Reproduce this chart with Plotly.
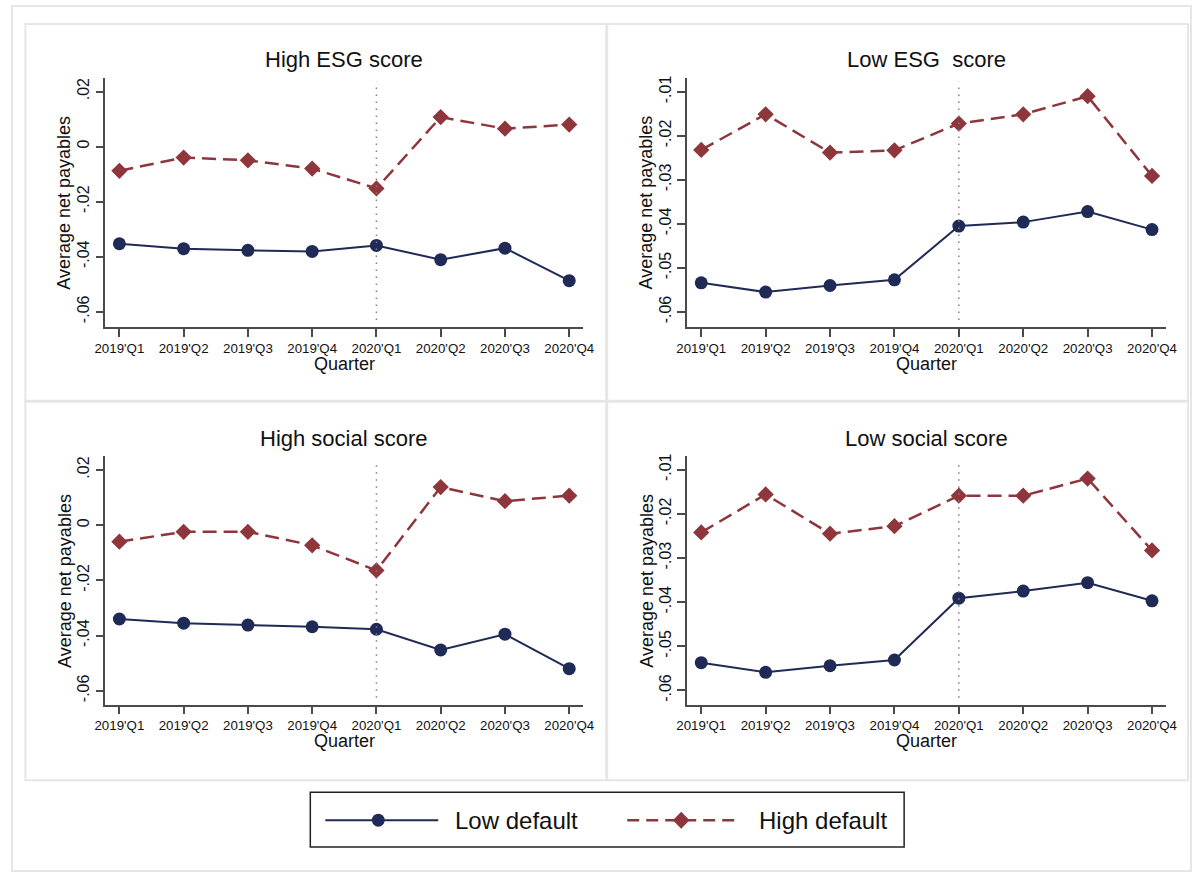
import plotly.graph_objects as go

# Quarter labels shared by all four panels
quarters = ["2019'Q1", "2019'Q2", "2019'Q3", "2019'Q4",
            "2020'Q1", "2020'Q2", "2020'Q3", "2020'Q4"]

# Average net payables by group (low / high default)
high_esg_low_default = [-0.0353, -0.0371, -0.0377, -0.0381, -0.0359, -0.0411, -0.0369, -0.0487]
high_esg_high_default = [-0.0088, -0.0040, -0.0050, -0.0080, -0.0152, 0.0107, 0.0065, 0.0080]

low_esg_low_default = [-0.0534, -0.0555, -0.0540, -0.0527, -0.0405, -0.0396, -0.0372, -0.0413]
low_esg_high_default = [-0.0232, -0.0151, -0.0238, -0.0233, -0.0172, -0.0151, -0.0110, -0.0291]

high_social_low_default = [-0.0340, -0.0355, -0.0362, -0.0368, -0.0377, -0.0452, -0.0395, -0.0520]
high_social_high_default = [-0.0060, -0.0024, -0.0024, -0.0073, -0.0164, 0.0138, 0.0087, 0.0107]

low_social_low_default = [-0.0537, -0.0559, -0.0544, -0.0531, -0.0391, -0.0375, -0.0356, -0.0397]
low_social_high_default = [-0.0242, -0.0156, -0.0245, -0.0228, -0.0159, -0.0159, -0.0120, -0.0283]

panel_titles = ["High ESG score", "Low ESG  score", "High social score", "Low social score"]

# y tick sets
ticks_high = [0.02, 0.0, -0.02, -0.04, -0.06]
ticklabels_high = [".02", "0", "-.02", "-.04", "-.06"]
ticks_low = [-0.01, -0.02, -0.03, -0.04, -0.05, -0.06]
ticklabels_low = ["-.01", "-.02", "-.03", "-.04", "-.05", "-.06"]

W, H = 1203, 875
NAVY = "#1f2b56"
MAROON = "#8f363c"
AXIS = "#4a4a4a"
FONT = "Arial, Liberation Sans, sans-serif"

# horizontal layout grid: positions are laid out on a slightly wider canvas
GX0, GXS = 10.6, 0.982


def px(x):
    """layout x position -> paper fraction (clamped to the canvas)"""
    v = (x - GX0) / GXS / W
    return min(max(v, 1.0 / W), 1 - 1.0 / W)


def py(y):
    """layout y position (from top) -> paper fraction"""
    return 1 - y / H


panels = [
    dict(low=high_esg_low_default, high=high_esg_high_default,
         xd=(105, 583), yd=(75, 325), yr=(-0.0655, 0.025),
         tv=ticks_high, tt=ticklabels_high),
    dict(low=low_esg_low_default, high=low_esg_high_default,
         xd=(687, 1166), yd=(75, 325), yr=(-0.0634, -0.0068),
         tv=ticks_low, tt=ticklabels_low),
    dict(low=high_social_low_default, high=high_social_high_default,
         xd=(105, 583), yd=(455, 704), yr=(-0.065, 0.0249),
         tv=ticks_high, tt=ticklabels_high),
    dict(low=low_social_low_default, high=low_social_high_default,
         xd=(687, 1166), yd=(455, 704), yr=(-0.0632, -0.0070),
         tv=ticks_low, tt=ticklabels_low),
]

fig = go.Figure()
layout = dict(
    width=W, height=H,
    margin=dict(l=0, r=0, t=0, b=0),
    paper_bgcolor="white", plot_bgcolor="white",
    showlegend=False,
    font=dict(family=FONT, color="#111"),
)
shapes = []
annotations = []

xpos = list(range(len(quarters)))

for i, p in enumerate(panels, start=1):
    sfx = "" if i == 1 else str(i)
    xa, ya = "x" + sfx, "y" + sfx
    fig.add_trace(go.Scatter(
        x=xpos, y=p["low"], xaxis=xa, yaxis=ya, mode="lines+markers",
        line=dict(color=NAVY, width=2),
        marker=dict(symbol="circle", size=13, color=NAVY),
        name="Low default"))
    fig.add_trace(go.Scatter(
        x=xpos, y=p["high"], xaxis=xa, yaxis=ya, mode="lines+markers",
        line=dict(color=MAROON, width=2.5, dash="14px,7px"),
        marker=dict(symbol="diamond", size=12.5, color=MAROON),
        name="High default"))

    layout["xaxis" + sfx] = dict(
        domain=[px(p["xd"][0]), px(p["xd"][1])], anchor=ya,
        range=[-0.218, 7.218], tickvals=xpos, ticktext=quarters,
        showline=True, linecolor=AXIS, linewidth=1.5,
        ticks="outside", ticklen=8, tickwidth=1.5, tickcolor=AXIS,
        showgrid=False, zeroline=False,
        tickfont=dict(size=13.3, color="#111", family=FONT))
    layout["yaxis" + sfx] = dict(
        domain=[py(p["yd"][1]), py(p["yd"][0])], anchor=xa,
        range=list(p["yr"]), tickvals=p["tv"], ticktext=p["tt"],
        tickangle=-90,
        showline=True, linecolor=AXIS, linewidth=1.5,
        ticks="outside", ticklen=8, tickwidth=1.5, tickcolor=AXIS,
        showgrid=False, zeroline=False,
        tickfont=dict(size=16, color="#111", family=FONT))

    # dotted reference line at 2020'Q1
    shapes.append(dict(type="line", xref=xa, yref=ya + " domain",
                       x0=4, x1=4, y0=0.028, y1=0.984,
                       line=dict(color="#808080", width=1.5, dash="1.5px,5.5px")))

    xc = (p["xd"][0] + p["xd"][1]) / 2
    # panel title
    annotations.append(dict(text=panel_titles[i - 1], x=px(xc), y=py(p["yd"][0] - 18),
                            xref="paper", yref="paper", showarrow=False,
                            xanchor="center", yanchor="middle",
                            font=dict(size=22, family=FONT, color="#111")))
    # x axis title
    annotations.append(dict(text="Quarter", x=px(xc), y=py(p["yd"][1] + 37),
                            xref="paper", yref="paper", showarrow=False,
                            xanchor="center", yanchor="middle",
                            font=dict(size=18, family=FONT, color="#111")))
    # y axis title
    annotations.append(dict(text="Average net payables",
                            x=px(p["xd"][0] - 41), y=py((p["yd"][0] + p["yd"][1]) / 2),
                            xref="paper", yref="paper", showarrow=False,
                            textangle=-90, xanchor="center", yanchor="middle",
                            font=dict(size=18, family=FONT, color="#111")))

# outer frame and panel frames
frame_col = "#e6e6e6"
shapes.append(dict(type="rect", xref="paper", yref="paper", layer="below",
                   x0=px(7), x1=px(1197), y0=py(871), y1=py(3),
                   line=dict(color=frame_col, width=2)))
for (x0, y0, x1, y1) in [(25, 21, 606, 399), (607, 21, 1188, 399),
                         (25, 400, 606, 780), (607, 400, 1188, 780)]:
    shapes.append(dict(type="rect", xref="paper", yref="paper", layer="below",
                       x0=px(x0), x1=px(x1), y0=py(y1), y1=py(y0),
                       line=dict(color=frame_col, width=2)))

# legend box
shapes.append(dict(type="rect", xref="paper", yref="paper",
                   x0=px(310), x1=px(904), y0=py(847), y1=py(792),
                   line=dict(color="#222", width=1.5), fillcolor="white"))
ly = 820
shapes.append(dict(type="line", xref="paper", yref="paper",
                   x0=px(325), x1=px(438), y0=py(ly), y1=py(ly),
                   line=dict(color=NAVY, width=2)))
shapes.append(dict(type="circle", xref="paper", yref="paper",
                   x0=px(378) - 6.5 / W, x1=px(378) + 6.5 / W,
                   y0=py(ly + 6.5), y1=py(ly - 6.5),
                   line=dict(color=NAVY, width=0), fillcolor=NAVY))
shapes.append(dict(type="line", xref="paper", yref="paper",
                   x0=px(627), x1=px(741), y0=py(ly), y1=py(ly),
                   line=dict(color=MAROON, width=2.5, dash="12px,7px")))
dx, dcx = 8.5 / W, px(681)
shapes.append(dict(type="path", xref="paper", yref="paper",
                   path=(f"M {dcx - dx},{py(ly)} L {dcx},{py(ly - 8.5)} "
                         f"L {dcx + dx},{py(ly)} L {dcx},{py(ly + 8.5)} Z"),
                   line=dict(color=MAROON, width=0), fillcolor=MAROON))
annotations.append(dict(text="Low default", x=px(453), y=py(ly), xref="paper", yref="paper",
                        showarrow=False, xanchor="left", yanchor="middle",
                        font=dict(size=24, family=FONT, color="#111")))
annotations.append(dict(text="High default", x=px(757), y=py(ly), xref="paper", yref="paper",
                        showarrow=False, xanchor="left", yanchor="middle",
                        font=dict(size=24, family=FONT, color="#111")))

layout["shapes"] = shapes
layout["annotations"] = annotations
fig.update_layout(**layout)

fig.write_html("out.html")
